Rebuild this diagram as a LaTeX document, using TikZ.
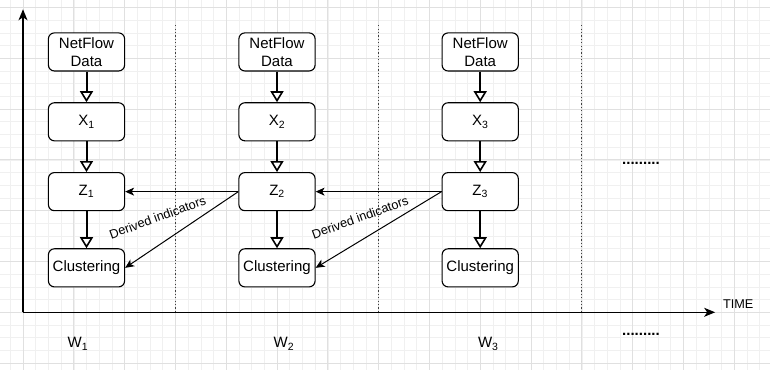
\documentclass[tikz,border=0pt]{standalone}
\usepackage{fontspec}
\setmainfont{Liberation Sans}
\usetikzlibrary{arrows.meta}
\begin{document}
\begin{tikzpicture}[x=1.27pt,y=1.27pt,
  box/.style={draw=black, line width=1.1pt, rounded corners=6pt, fill=white,
    minimum width=76.2pt, minimum height=38.1pt, inner sep=0pt, align=center,
    font=\fontsize{15}{17.5}\selectfont},
  flow/.style={line width=2pt, -{Triangle[open, length=11pt, width=13pt, line width=1.6pt, fill=white]}},
  derived/.style={line width=1pt, -{Stealth[length=9pt, width=8pt, inset=2.5pt]}},
  axis/.style={line width=1.3pt, -{Stealth[length=11pt, width=9pt, inset=3pt]}},
  sep/.style={line width=1pt, black!75, dash pattern=on 1.2pt off 2.2pt},
  lbl/.style={font=\fontsize{12.7}{15}\selectfont, inner sep=0pt},
  wlbl/.style={font=\fontsize{15}{18}\selectfont, anchor=base, inner sep=0pt},
  dotlbl/.style={font=\fontsize{15}{18}\selectfont\bfseries, anchor=base, inner sep=0pt},
  minorgrid/.style={line width=0.6pt, black!6},
  majorgrid/.style={line width=0.8pt, black!12},
]
\useasboundingbox (-18.11,-45.43) rectangle (588.19,245.9);
\fill[white] (-18.11,-45.43) rectangle (588.19,245.9);
% grid
\foreach \i in {-10,0,...,580} \draw[minorgrid] (\i,-45.43) -- (\i,245.9);
\foreach \j in {-40,-30,...,240} \draw[minorgrid] (-18.11,\j) -- (588.19,\j);
\foreach \i in {0,40,...,560} \draw[majorgrid] (\i,-45.43) -- (\i,245.9);
\foreach \j in {-40,0,...,240} \draw[majorgrid] (-18.11,\j) -- (588.19,\j);

% coordinates
\coordinate (O) at (0,0);
\coordinate (ytop) at (0,238.6);
\coordinate (xend) at (545,0);
\coordinate (s1t) at (120,226);
\coordinate (s1b) at (120,0);
\coordinate (s2t) at (280,226);
\coordinate (s2b) at (280,0);
\coordinate (s3t) at (440,226);
\coordinate (s3b) at (440,0);

% separators
\draw[sep] (s1t) -- (s1b);
\draw[sep] (s2t) -- (s2b);
\draw[sep] (s3t) -- (s3b);

% axes
\draw[axis] (O) -- (ytop);
\draw[axis] (O) -- (xend);

% boxes
\node[box] (n1) at (50,205) {NetFlow\\Data};
\node[box] (x1) at (50,150) {X\textsubscript{1}};
\node[box] (z1) at (50,95) {Z\textsubscript{1}};
\node[box] (c1) at (50,35) {Clustering};

\node[box] (n2) at (200,205) {NetFlow\\Data};
\node[box] (x2) at (200,150) {X\textsubscript{2}};
\node[box] (z2) at (200,95) {Z\textsubscript{2}};
\node[box] (c2) at (200,35) {Clustering};

\node[box] (n3) at (360,205) {NetFlow\\Data};
\node[box] (x3) at (360,150) {X\textsubscript{3}};
\node[box] (z3) at (360,95) {Z\textsubscript{3}};
\node[box] (c3) at (360,35) {Clustering};

% flow arrows
\draw[flow] (n1) -- (x1);
\draw[flow] (x1) -- (z1);
\draw[flow] (z1) -- (c1);
\draw[flow] (n2) -- (x2);
\draw[flow] (x2) -- (z2);
\draw[flow] (z2) -- (c2);
\draw[flow] (n3) -- (x3);
\draw[flow] (x3) -- (z3);
\draw[flow] (z3) -- (c3);

% derived indicators
\draw[derived] (z2.west) -- (z1.east);
\draw[derived] (z2.west) -- (c1.east)
  node[lbl, rotate=20] at (105.9,74.7) {Derived indicators};
\draw[derived] (z3.west) -- (z2.east);
\draw[derived] (z3.west) -- (c2.east)
  node[lbl, rotate=20] at (265.4,74.7) {Derived indicators};

% labels
\node[lbl, anchor=base] (time) at (563.2,3.1) {TIME};
\node[dotlbl] (dtop) at (486.6,116) {.........};
\node[dotlbl] (dbot) at (486.6,-17.9) {.........};
\node[wlbl] (w1) at (43.2,-28.1) {W\textsubscript{1}};
\node[wlbl] (w2) at (205.5,-28.1) {W\textsubscript{2}};
\node[wlbl] (w3) at (366.4,-28.1) {W\textsubscript{3}};
\end{tikzpicture}
\end{document}
